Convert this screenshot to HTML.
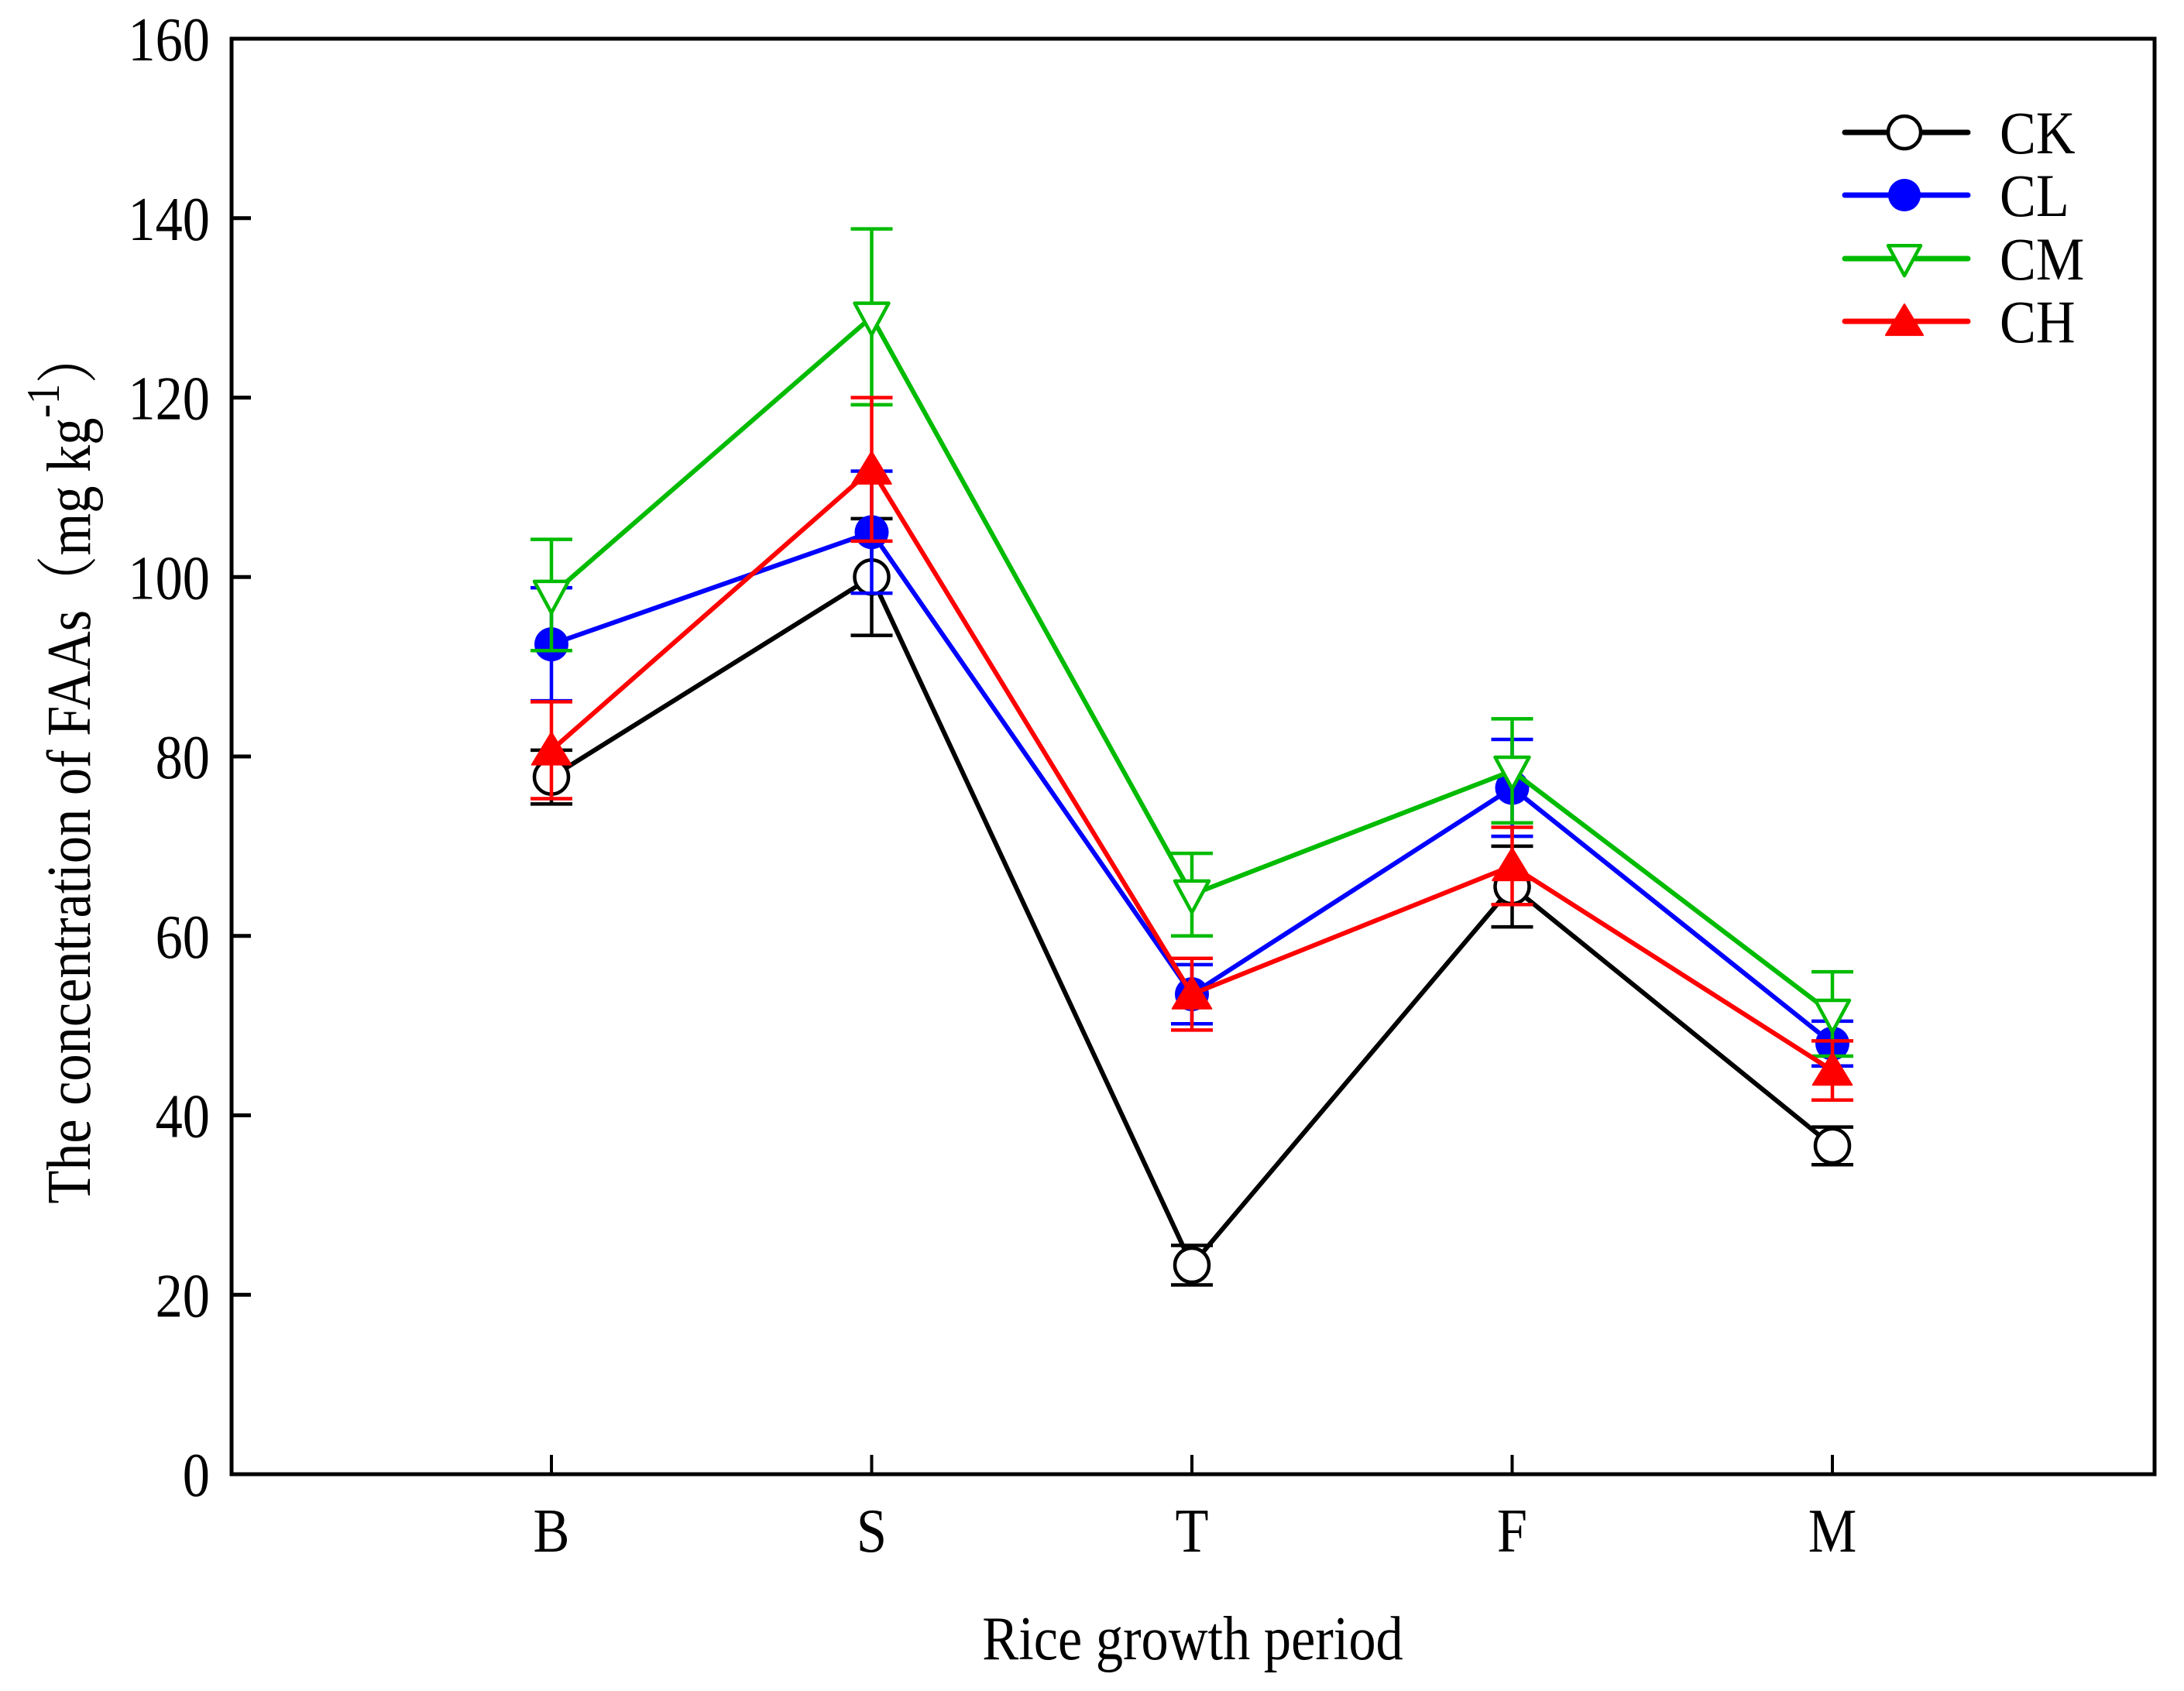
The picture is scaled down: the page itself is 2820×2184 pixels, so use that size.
<!DOCTYPE html>
<html><head><meta charset="utf-8"><style>
html,body{margin:0;padding:0;background:#fff}
svg{display:block}
text{font-family:"Liberation Serif","Noto Serif CJK SC",serif;fill:#000}
</style></head><body>
<svg id="chart" width="2820" height="2184" viewBox="0 0 2820 2184" xmlns="http://www.w3.org/2000/svg">
<g id="axes"></g>
<g id="series"></g>
<g id="legend"></g>
<text transform="translate(1540,2143) scale(0.88,1)" font-size="80" text-anchor="middle">Rice growth period</text>
<text transform="translate(116,990) rotate(-90) scale(0.88,1)" font-size="80" text-anchor="middle">The concentration of FAAs（mg kg<tspan dy="-40" font-size="60">-1</tspan><tspan dy="40">）</tspan></text>
</svg>
<script>
const categories = ["B","S","T","F","M"];
const seriesNames = ["CK","CL","CM","CH"];
const ckValues = [77.7,100,23.3,65.5,36.6];
const ckErrors = [3,6.5,2.2,4.5,2.1];
const clValues = [92.5,105,53.5,76.5,48];
const clErrors = [6.3,6.8,3.3,5.4,2.5];
const cmValues = [98,129,64.6,78.4,51.3];
const cmErrors = [6.2,9.8,4.6,5.8,4.7];
const chValues = [80.7,112,53.5,67.8,45];
const chErrors = [5.4,8,4,4.3,3.3];
const yTicks = [0,20,40,60,80,100,120,140,160];

const NS="http://www.w3.org/2000/svg";
const L=299,R=2782,T=50,B=1904;
const x0=712,dx=413.5;
function xs(i){return x0+i*dx;}
function ys(v){return B-(v/160)*(B-T);}
function mk(tag,attrs,parent){const e=document.createElementNS(NS,tag);for(const k in attrs)e.setAttribute(k,attrs[k]);parent.appendChild(e);return e;}
const axes=document.getElementById('axes');
const fr=mk('rect',{x:L,y:T,width:R-L,height:B-T,fill:'none',stroke:'#000','stroke-width':5},axes);


yTicks.forEach(v=>{
  const y=ys(v);
  const t=mk('line',{x1:L,y1:y,x2:L+25,y2:y,stroke:'#000','stroke-width':5},axes);
  
  
  const lb=mk('text',{transform:`translate(${L-28},${y+28}) scale(0.88,1)`,'font-size':80,'text-anchor':'end'},axes);
  lb.textContent=v;
  
  
});
categories.forEach((c,i)=>{
  const x=xs(i);
  const t=mk('line',{x1:x,y1:B,x2:x,y2:B-25,stroke:'#000','stroke-width':4},axes);
  
  
  const lb=mk('text',{transform:`translate(${x},2004) scale(0.88,1)`,'font-size':80,'text-anchor':'middle'},axes);
  lb.textContent=c;
  
  
});
const colors=["#000","#0000ff","#00bb00","#ff0000"];
const allVals=[ckValues,clValues,cmValues,chValues];
const allErr=[ckErrors,clErrors,cmErrors,chErrors];
function marker(k,x,y,parent,r){
  let e;
  if(k===0) e=mk('circle',{cx:x,cy:y,r:r,fill:'#fff',stroke:'#000','stroke-width':4.5},parent);
  else if(k===1) e=mk('circle',{cx:x,cy:y,r:r,fill:'#0000ff'},parent);
  else if(k===2) e=mk('polygon',{points:`${x-r},${y-r*0.8} ${x+r},${y-r*0.8} ${x},${y+r*1.05}`,fill:'#fff',stroke:'#00bb00','stroke-width':4.5,'stroke-linejoin':'round'},parent);
  else e=mk('polygon',{points:`${x},${y-r*1.05} ${x+r*1.15},${y+r*0.85} ${x-r*1.15},${y+r*0.85}`,fill:'#ff0000',stroke:'#ff0000','stroke-width':2,'stroke-linejoin':'round'},parent);
  return e;
}
const sg=document.getElementById('series');
allVals.forEach((vals,k)=>{
  const g=mk('g',{},sg);
  
  
  vals.forEach((v,i)=>{
    const x=xs(i),e=allErr[k][i];
    const eb=mk('path',{d:`M${x},${ys(v-e)}V${ys(v+e)}M${x-27},${ys(v+e)}H${x+27}M${x-27},${ys(v-e)}H${x+27}`,stroke:colors[k],'stroke-width':4.5,fill:'none'},g);
    
    
  });
  const pl=mk('polyline',{points:vals.map((v,i)=>xs(i)+','+ys(v)).join(' '),fill:'none',stroke:colors[k],'stroke-width':6,'stroke-linejoin':'round'},g);
  
  
  vals.forEach((v,i)=>{
    const m=marker(k,xs(i),ys(v),g,22);
    
    
  });
});
const lg=document.getElementById('legend');
const rows=[171,252,334,415];
seriesNames.forEach((n,k)=>{
  const g=mk('g',{},lg);
  
  
  const y=rows[k];
  mk('line',{x1:2382,y1:y,x2:2541,y2:y,stroke:colors[k],'stroke-width':7,'stroke-linecap':'round'},g);
  marker(k,2459,y,g,21);
  const t=mk('text',{transform:`translate(2582,${y+27}) scale(0.9,1)`,'font-size':78},g);
  t.textContent=n;
});
</script>
</body></html>
